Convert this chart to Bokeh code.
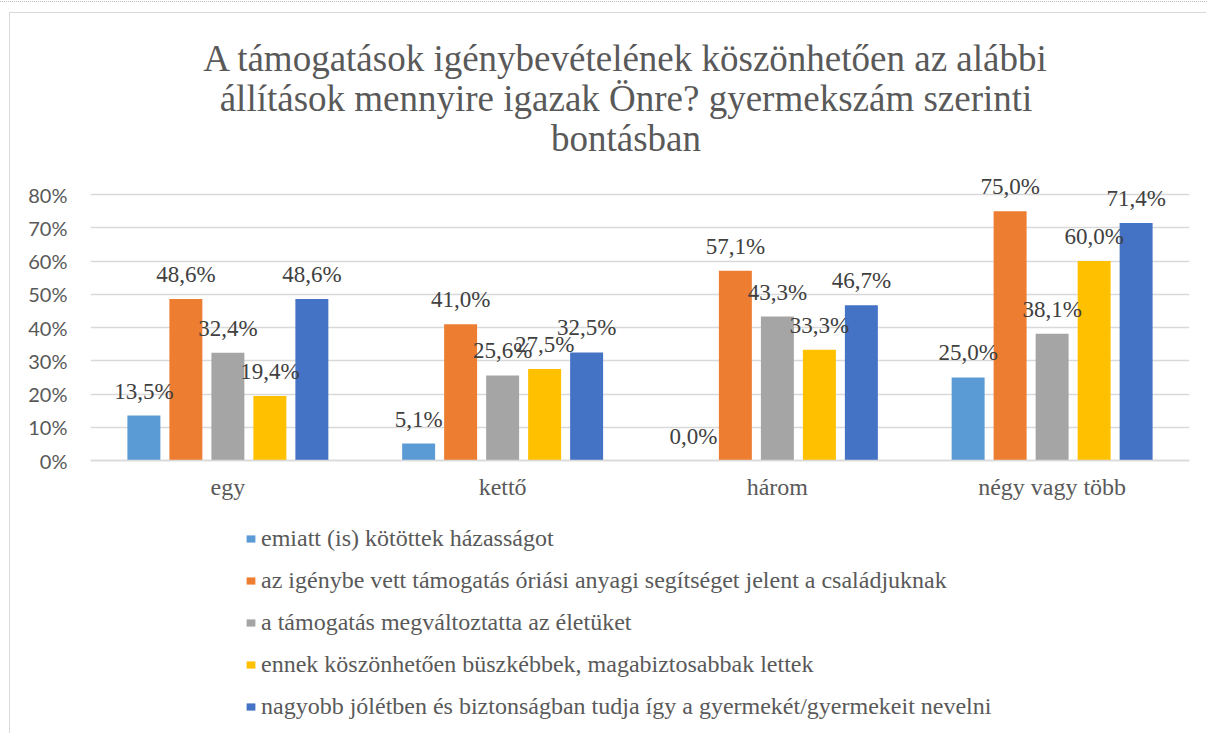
from bokeh.plotting import figure
from bokeh.models import (ColumnDataSource, FactorRange, Range1d, LabelSet, Label,
                          Legend, LegendItem, FixedTicker, NumeralTickFormatter)
from bokeh.transform import dodge
from bokeh.embed import file_html
from bokeh.resources import INLINE

# ---------------- data ----------------
categories = ["egy", "kettő", "három", "négy vagy több"]
series_names = [
    "emiatt (is) kötöttek házasságot",
    "az igénybe vett támogatás óriási anyagi segítséget jelent a családjuknak",
    "a támogatás megváltoztatta az életüket",
    "ennek köszönhetően büszkébbek, magabiztosabbak lettek",
    "nagyobb jólétben és biztonságban tudja így a gyermekét/gyermekeit nevelni",
]
s1 = [13.5, 5.1, 0.0, 25.0]
s2 = [48.6, 41.0, 57.1, 75.0]
s3 = [32.4, 25.6, 43.3, 38.1]
s4 = [19.4, 27.5, 33.3, 60.0]
s5 = [48.6, 32.5, 46.7, 71.4]
series_values = [s1, s2, s3, s4, s5]
colors = ["#5B9BD5", "#ED7D31", "#A5A5A5", "#FFC000", "#4472C4"]
y_ticks = [0, 10, 20, 30, 40, 50, 60, 70, 80]
title_lines = [
    "A támogatások igénybevételének köszönhetően az alábbi",
    "állítások mennyire igazak Önre? gyermekszám szerinti",
    "bontásban",
]

SERIF = "Liberation Serif"
TXT = "#595959"

OX, OY = 10, 13            # offset of the chart box inside the page
W, H = 1197, 721
FRAME_L, FRAME_R = 90 - OX, 1189 - OX
ZERO_Y = 460 - OY          # pixel row of the 0% line
PX_PER_10 = 33.25
y_start = -(H - ZERO_Y) / PX_PER_10 / 10.0
y_end = ZERO_Y / PX_PER_10 / 10.0

p = figure(
    width=W, height=H,
    x_range=FactorRange(*categories, range_padding=0),
    y_range=Range1d(y_start, y_end),
    output_backend="svg", toolbar_location=None,
    min_border_left=FRAME_L, min_border_right=W - FRAME_R,
    min_border_top=0, min_border_bottom=0,
)
p.styles = {
    "margin-left": "9px", "margin-top": "12px",
    "border-left": "1px solid #d9d9d9", "border-top": "1px solid #d9d9d9",
    "outline": "1px dotted #bfbfbf", "outline-offset": "10px",
}
p.title.text = ""
p.outline_line_color = None
p.background_fill_color = "white"
p.border_fill_color = "white"

# axes
p.yaxis.ticker = FixedTicker(ticks=[t / 100 for t in y_ticks])
p.yaxis.formatter = NumeralTickFormatter(format="0%")
p.yaxis.axis_line_color = None
p.yaxis.major_tick_line_color = None
p.yaxis.minor_tick_line_color = None
p.yaxis.major_tick_out = 0
p.yaxis.major_tick_in = 0
p.yaxis.major_label_standoff = 23
p.yaxis.major_label_text_font = "Lato"
p.yaxis.major_label_text_font_size = "20px"
p.yaxis.major_label_text_color = TXT

p.xaxis.fixed_location = 0
p.xaxis.axis_line_color = "#d9d9d9"
p.xaxis.axis_line_width = 1.5
p.xaxis.major_tick_line_color = None
p.xaxis.minor_tick_line_color = None
p.xaxis.major_tick_out = 0
p.xaxis.major_tick_in = 0
p.xaxis.major_label_standoff = 13
p.xaxis.major_label_text_font = SERIF
p.xaxis.major_label_text_font_size = "24px"
p.xaxis.major_label_text_color = TXT

p.xgrid.grid_line_color = None
p.ygrid.grid_line_color = "#d9d9d9"
p.ygrid.grid_line_width = 1.5

offsets = [-0.3057, -0.1529, 0.0, 0.1529, 0.3057]
items = []
for name, vals, col, off in zip(series_names, series_values, colors, offsets):
    src = ColumnDataSource(dict(
        cat=categories,
        val=[v / 100 for v in vals],
        lab=[("%.1f" % v).replace(".", ",") + "%" for v in vals],
    ))
    r = p.vbar(x=dodge("cat", off, range=p.x_range), top="val", width=0.12,
               source=src, fill_color=col, line_color=None)
    items.append(LegendItem(label=name, renderers=[r]))
    ls = LabelSet(x=dodge("cat", off, range=p.x_range), y="val", text="lab",
                  source=src, text_align="center", text_baseline="alphabetic",
                  y_offset=17, text_font=SERIF, text_font_size="23px",
                  text_color="#404040")
    p.add_layout(ls)

legend = Legend(
    items=items, location=(245 - OX - FRAME_L, H - (720 - OY)), orientation="vertical",
    label_text_font=SERIF, label_text_font_size="24px", label_text_color=TXT,
    glyph_width=11, glyph_height=9, label_height=28, spacing=14,
    padding=0, margin=0, border_line_color=None, background_fill_alpha=0,
    label_standoff=5,
)
p.add_layout(legend)

# title lines: baselines at page rows 71,111,151, centred at page x=625.5
for txt, base in zip(title_lines, [71, 111, 151]):
    p.add_layout(Label(x=625.5 - OX - FRAME_L, y=H - (base - OY - 13),
                       x_units="screen", y_units="screen",
                       text=txt, text_align="center", text_baseline="alphabetic",
                       text_font=SERIF, text_font_size="37px", text_color=TXT))

open("out.html", "w").write(file_html(p, INLINE))
